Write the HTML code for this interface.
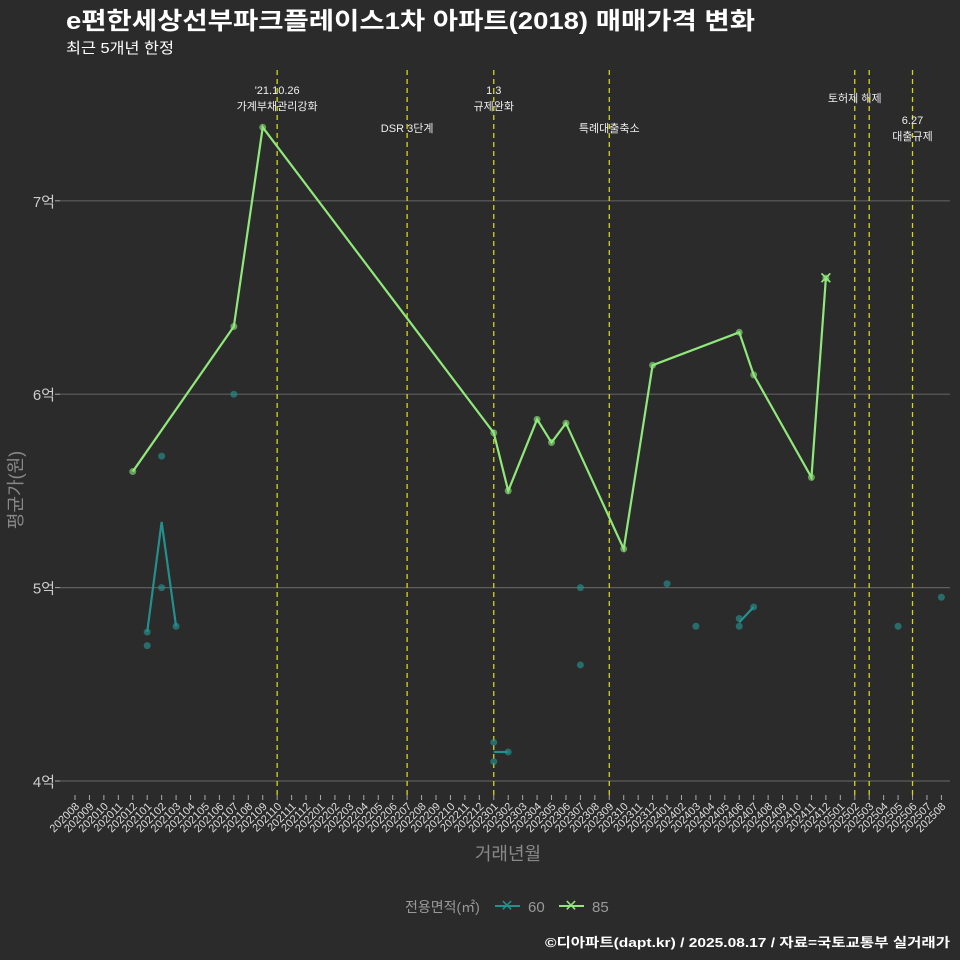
<!DOCTYPE html>
<html><head><meta charset="utf-8"><style>
html,body{margin:0;padding:0;background:#2b2b2b;}
svg{display:block;font-family:"Liberation Sans","Noto Sans CJK KR",sans-serif;}
</style></head><body>
<svg id="chart" width="960" height="960" viewBox="0 0 960 960">
<rect width="960" height="960" fill="#2b2b2b"/>
<text x="66" y="29" font-size="24" font-weight="bold" fill="#ffffff" textLength="689" lengthAdjust="spacingAndGlyphs">e편한세상선부파크플레이스1차 아파트(2018) 매매가격 변화</text>
<text x="66" y="53" font-size="15" fill="#ffffff" textLength="108" lengthAdjust="spacingAndGlyphs">최근 5개년 한정</text>
<g id="grid"></g><g id="events"></g><g id="series"></g><g id="axes"></g>
<text x="22" y="490" font-size="18" fill="#888" transform="rotate(-90 22 490)" text-anchor="middle">평균가(원)</text>
<text x="508" y="860" font-size="18" fill="#888" text-anchor="middle">거래년월</text>
<g>
<text x="405" y="912" font-size="14" fill="#999">전용면적(㎡)</text>
<g>
<line x1="495" y1="906" x2="520" y2="906" stroke="#23908e" stroke-width="2"/>
<text x="507" y="911" font-size="16" fill="#23908e" text-anchor="middle">✕</text>
<text x="528" y="912" font-size="15" fill="#999">60</text></g>
<g>
<line x1="559" y1="906" x2="584" y2="906" stroke="#90e87a" stroke-width="2"/>
<text x="571" y="911" font-size="16" fill="#90e87a" text-anchor="middle">✕</text>
<text x="592" y="912" font-size="15" fill="#999">85</text></g>
</g>
<text x="545" y="947" font-size="13" font-weight="bold" fill="#ffffff" textLength="405" lengthAdjust="spacingAndGlyphs">©디아파트(dapt.kr) / 2025.08.17 / 자료=국토교통부 실거래가</text>
</svg>
<script>
const months=[];for(let y=2020,m=8;!(y===2025&&m===9);){months.push(''+y+(m<10?'0':'')+m);m++;if(m>12){m=1;y++;}}
const yTicks=[4,5,6,7];
const yTickLabels=['4억','5억','6억','7억'];
const s85Months=['202012','202107','202109','202301','202302','202304','202305','202306','202310','202312','202406','202407','202411','202412'];
const s85Values=[5.6,6.35,7.38,5.8,5.5,5.87,5.75,5.85,5.2,6.15,6.32,6.1,5.57,6.6];
const s60LineMonths=[['202101','202102','202103'],['202301','202302'],['202406','202407']];
const s60LineValues=[[4.77,5.34,4.8],[4.15,4.15],[4.82,4.9]];
const s60PtMonths=['202101','202101','202102','202102','202103','202107','202301','202301','202302','202307','202307','202401','202403','202406','202406','202407','202505','202508'];
const s60PtValues=[4.77,4.7,5.68,5.0,4.8,6.0,4.2,4.1,4.15,5.0,4.6,5.02,4.8,4.84,4.8,4.9,4.8,4.95];
const eventMonths=['202110','202207','202301','202309','202502','202503','202506'];
const eventLabels=[["'21.10.26","가계부채관리강화"],["DSR 3단계"],["1.3","규제완화"],["특례대출축소"],["토허제 해제"],[],["6.27","대출규제"]];
const eventLabelY=[94,132,94,132,102,0,124];
const NS='http://www.w3.org/2000/svg';
const X=m=>75+14.44*months.indexOf(m);
const Y=v=>781-193.4*(v-4);
function mk(tag,attrs,parent){const e=document.createElementNS(NS,tag);for(const k in attrs)e.setAttribute(k,attrs[k]);parent.appendChild(e);return e;}
const grid=document.getElementById('grid'),axes=document.getElementById('axes'),ev=document.getElementById('events'),ser=document.getElementById('series');
yTicks.forEach((t,i)=>{
 const l=mk('line',{x1:60,x2:950,y1:Y(t),y2:Y(t),stroke:'#5e5e5e','stroke-width':1.2},grid);
 
 
 const tk=mk('line',{x1:55,x2:60,y1:Y(t),y2:Y(t),stroke:'#aaa'},axes);
 
 
 const tx=mk('text',{x:55,y:Y(t)+6,'font-size':15,fill:'#ccc','text-anchor':'end'},axes);
 
 
 tx.textContent=yTickLabels[i];
});
months.forEach(m=>{
 const x=X(m);
 const tk=mk('line',{x1:x,x2:x,y1:795,y2:800,stroke:'#aaa'},axes);
 
 
 const tx=mk('text',{x:x+5,y:807,'font-size':11,fill:'#ddd','text-anchor':'end',transform:`rotate(-45 ${x+5} 807)`},axes);
 
 
 tx.textContent=m;
});
eventMonths.forEach((m,i)=>{
 const x=X(m);
 const l=mk('line',{x1:x,x2:x,y1:70,y2:795,stroke:'#d4d41a','stroke-width':1.3,'stroke-dasharray':'5,4'},ev);
 
 
 eventLabels[i].forEach((s,j)=>{
  const t=mk('text',{x:x,y:eventLabelY[i]+j*16,'font-size':11,fill:'#eee','text-anchor':'middle'},ev);
  
  
  t.textContent=s;
 });
});
s60PtMonths.forEach((m,i)=>{
 const c=mk('circle',{cx:X(m),cy:Y(s60PtValues[i]),r:3.5,fill:'#23908e','fill-opacity':0.65},ser);
 
 
});
s60LineMonths.forEach((ms,k)=>{
 const p=mk('polyline',{points:ms.map((m,i)=>X(m)+','+Y(s60LineValues[k][i])).join(' '),fill:'none',stroke:'#23908e','stroke-width':2.2},ser);
 
 
});
const pl=mk('polyline',{points:s85Months.map((m,i)=>X(m)+','+Y(s85Values[i])).join(' '),fill:'none',stroke:'#90e87a','stroke-width':2.2},ser);


s85Months.forEach((m,i)=>{
 const c=mk('circle',{cx:X(m),cy:Y(s85Values[i]),r:3.5,fill:'#90e87a','fill-opacity':0.6},ser);
 
 
});
const lm=s85Months[s85Months.length-1],lv=s85Values[s85Values.length-1];
const xm=mk('text',{x:X(lm),y:Y(lv)+6,'font-size':17,fill:'#90e87a','text-anchor':'middle'},ser);


xm.textContent='✕';
</script>
</body></html>
